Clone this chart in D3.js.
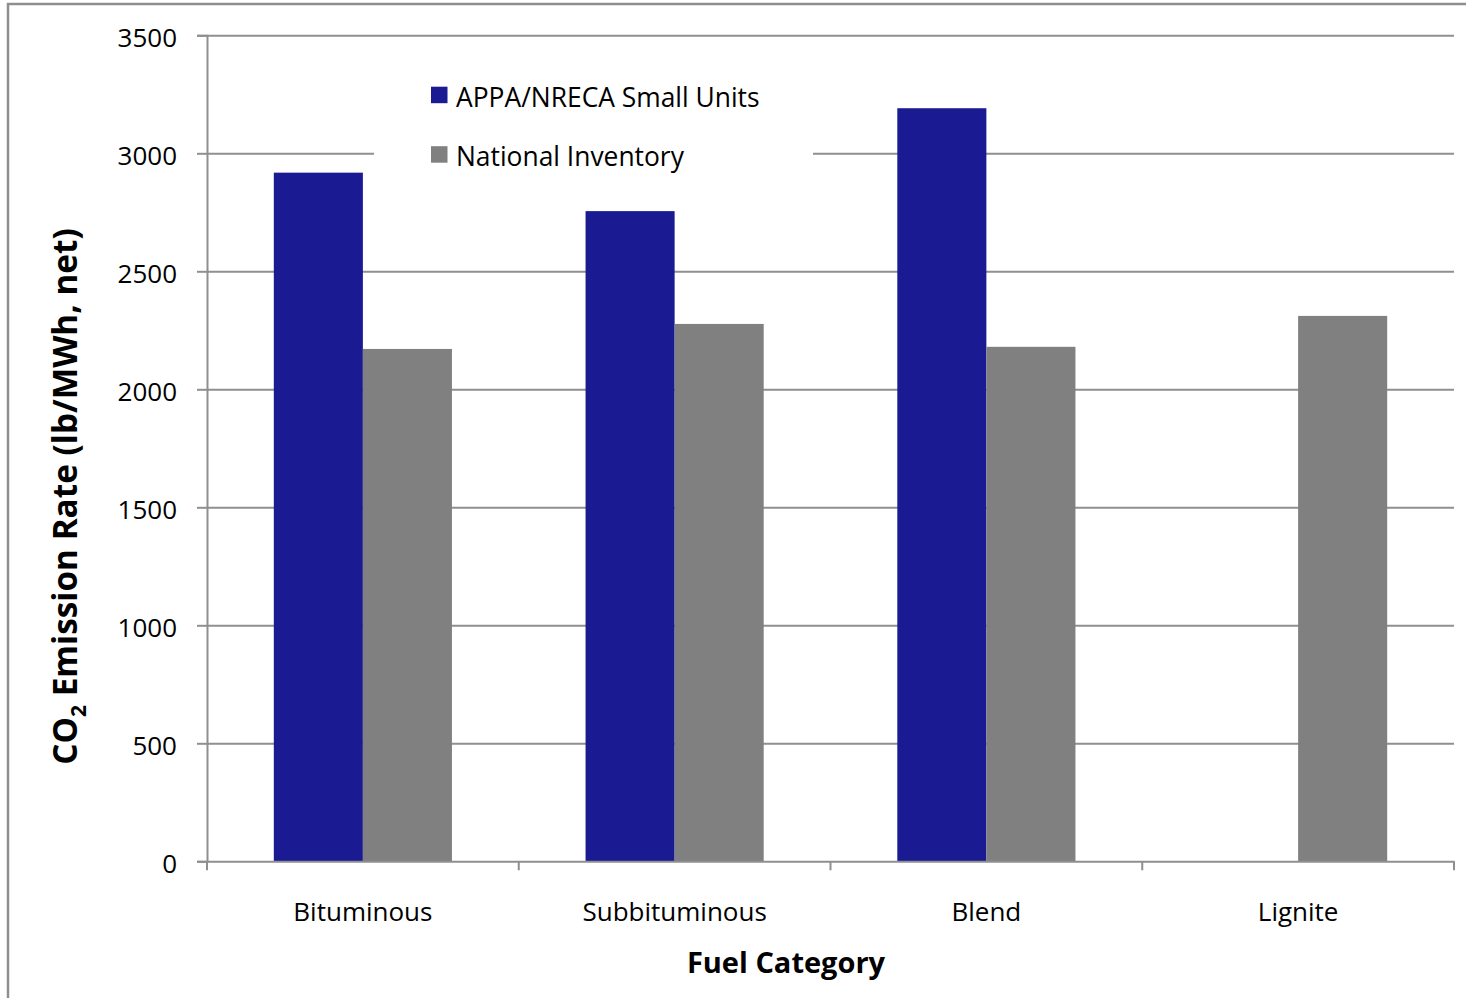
<!DOCTYPE html>
<html>
<head>
<meta charset="utf-8">
<script src="https://cdn.jsdelivr.net/npm/d3@7"></script>
<style>
  html, body { margin: 0; padding: 0; background: #fff; }
  svg { display: block; }
  text { font-family: "Open Sans", Lato, sans-serif; fill: #000; }
</style>
</head>
<body>
<svg id="chart" width="1466" height="998"></svg>
<script>
// ---- data ----
const categories = ["Bituminous", "Subbituminous", "Blend", "Lignite"];
const seriesNames = ["APPA/NRECA Small Units", "National Inventory"];
const appaValues = [2918, 2755, 3191, null];
const nationalValues = [2171, 2277, 2180, 2311];
const yTicks = [0, 500, 1000, 1500, 2000, 2500, 3000, 3500];
const xTitle = "Fuel Category";
const seriesColors = ["#1a1a93", "#808080"];

(function () {
const svg = d3.select("#chart");
const W = 1466, H = 998;
const pLeft = 207, pRight = 1454, pTop = 35.3, pBottom = 861.3;
const gridColor = "#8f8f8f";

// outer frame
svg.append("rect").attr("x", 8).attr("y", 4).attr("width", W + 20).attr("height", H + 20)
  .attr("fill", "#fff").attr("stroke", "#8f8f8f").attr("stroke-width", 2.5);

const x = d3.scaleBand().domain(categories).range([pLeft, pRight]).paddingInner(0).paddingOuter(0);
const x1 = d3.scaleBand().domain(seriesNames).range([0, x.bandwidth()]).paddingInner(0).paddingOuter(0.75);
const y = d3.scaleLinear().domain([0, 3500]).range([pBottom, pTop]);

// gridlines
svg.append("g").attr("transform", `translate(${pLeft},0)`)
  .call(d3.axisLeft(y).tickValues(yTicks.filter(v => v > 0)).tickSize(-(pRight - pLeft)).tickFormat(""))
  .call(g => g.select(".domain").remove())
  .call(g => g.selectAll("line").attr("stroke", gridColor).attr("stroke-width", 2));

// bars
const rows = categories.map((c, i) => ({ cat: c, vals: [appaValues[i], nationalValues[i]] }));
const groups = svg.append("g").selectAll("g").data(rows).join("g")
  .attr("transform", d => `translate(${x(d.cat)},0)`);
groups.selectAll("rect")
  .data(d => d.vals.map((v, j) => ({ s: seriesNames[j], v, j })).filter(d => d.v != null))
  .join("rect")
  .attr("x", d => x1(d.s))
  .attr("width", x1.bandwidth())
  .attr("y", d => y(d.v))
  .attr("height", d => y(0) - y(d.v))
  .attr("fill", d => seriesColors[d.j]);

// y axis
svg.append("g").attr("transform", `translate(${pLeft},0)`)
  .call(d3.axisLeft(y).tickValues(yTicks).tickSize(10).tickPadding(20).tickFormat(d3.format("d")))
  .call(g => g.select(".domain").attr("stroke", gridColor).attr("stroke-width", 2))
  .call(g => g.selectAll(".tick line").attr("stroke", gridColor).attr("stroke-width", 2))
  .call(g => g.selectAll(".tick text").attr("font-size", 26).attr("font-family", "'Open Sans', sans-serif").attr("fill", "#000").attr("dy", "0.42em"));

// x axis
const xAxisG = svg.append("g").attr("transform", `translate(0,${pBottom})`)
  .call(d3.axisBottom(x).tickSize(0).tickPadding(60))
  .call(g => g.select(".domain").attr("stroke", gridColor).attr("stroke-width", 2))
  .call(g => g.selectAll(".tick text").attr("font-size", 26).attr("font-family", "'Open Sans', sans-serif").attr("fill", "#000").attr("dy", "0"));
// category boundary ticks
const boundaries = categories.map(c => x(c)).concat([x(categories[categories.length - 1]) + x.bandwidth()]);
xAxisG.selectAll(".bound").data(boundaries).join("line").attr("class", "bound")
  .attr("x1", d => d).attr("x2", d => d).attr("y1", 0).attr("y2", 9)
  .attr("stroke", gridColor).attr("stroke-width", 2);

// axis titles
svg.append("text").attr("x", 786).attr("y", 973).attr("text-anchor", "middle")
  .attr("font-size", 29).attr("font-weight", "bold").text(xTitle);

const yt = svg.append("text").attr("transform", "translate(77,496.5) rotate(-90)")
  .attr("text-anchor", "middle").attr("font-size", 33.3).attr("font-weight", "bold");
yt.append("tspan").text("CO");
yt.append("tspan").attr("font-size", 21).attr("dy", 9).text("2");
yt.append("tspan").attr("dy", -9).text(" Emission Rate (lb/MWh, net)");

// legend
const lg = svg.append("g");
lg.append("rect").attr("x", 374).attr("y", 55).attr("width", 439).attr("height", 135).attr("fill", "#fff");
const items = lg.selectAll("g.item").data(seriesNames).join("g").attr("class", "item")
  .attr("transform", (d, i) => `translate(431,${86.7 + i * 59.5})`);
items.append("rect").attr("width", 16.5).attr("height", 16.5).attr("fill", (d, i) => seriesColors[i]);
items.append("text").attr("x", 25).attr("y", 20).attr("font-size", 26.4).text(d => d);
})();
</script>
</body>
</html>
